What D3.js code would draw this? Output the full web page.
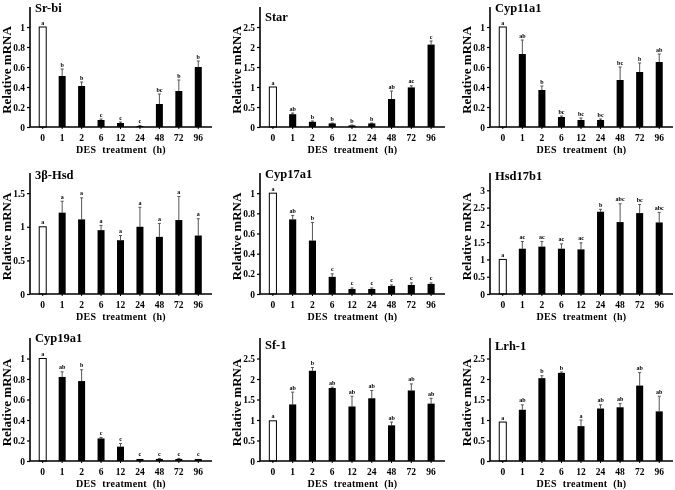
<!DOCTYPE html>
<html><head><meta charset="utf-8">
<script src="https://cdn.jsdelivr.net/npm/d3@7"></script>
<style>
body{margin:0;background:#fff}
svg{display:block;will-change:transform}
text{font-family:"Liberation Serif","Times New Roman",serif;font-weight:bold;fill:#000;-webkit-font-smoothing:antialiased}
</style>
</head><body>
<svg width="675" height="490"></svg>
<script>
// ---------- data ----------
const timePoints = ["0","1","2","6","12","24","48","72","96"];
const geneNames = ["Sr-bi","Star","Cyp11a1","3β-Hsd","Cyp17a1","Hsd17b1","Cyp19a1","Sf-1","Lrh-1"];

const srbiMean = [1.00,0.51,0.41,0.07,0.04,0.01,0.23,0.36,0.60];
const srbiErr  = [0.00,0.07,0.04,0.01,0.01,0.005,0.10,0.11,0.06];
const srbiSig  = ["a","b","b","c","c","c","bc","b","b"];

const starMean = [1.00,0.32,0.13,0.09,0.04,0.09,0.70,0.99,2.06];
const starErr  = [0.00,0.03,0.02,0.01,0.01,0.01,0.20,0.04,0.09];
const starSig  = ["a","ab","b","b","b","b","ab","ac","c"];

const cyp11Mean = [1.00,0.73,0.37,0.10,0.07,0.07,0.47,0.55,0.65];
const cyp11Err  = [0.00,0.14,0.04,0.01,0.02,0.01,0.13,0.09,0.08];
const cyp11Sig  = ["a","ab","b","bc","bc","bc","bc","b","ab"];

const hsd3Mean = [1.00,1.21,1.11,0.95,0.80,1.00,0.85,1.10,0.87];
const hsd3Err  = [0.00,0.17,0.32,0.07,0.07,0.29,0.20,0.35,0.25];
const hsd3Sig  = ["a","a","a","a","a","a","a","a","a"];

const cyp17Mean = [1.00,0.74,0.53,0.17,0.05,0.05,0.08,0.09,0.10];
const cyp17Err  = [0.00,0.04,0.18,0.03,0.01,0.01,0.01,0.02,0.01];
const cyp17Sig  = ["a","ab","b","c","c","c","c","c","c"];

const hsd17Mean = [1.00,1.31,1.37,1.31,1.29,2.38,2.08,2.34,2.07];
const hsd17Err  = [0.00,0.21,0.15,0.14,0.19,0.07,0.53,0.25,0.29];
const hsd17Sig  = ["a","ac","ac","ac","ac","b","abc","bc","abc"];

const cyp19Mean = [1.00,0.82,0.78,0.22,0.14,0.02,0.02,0.02,0.02];
const cyp19Err  = [0.00,0.05,0.11,0.01,0.03,0.00,0.005,0.005,0.00];
const cyp19Sig  = ["a","ab","b","c","c","c","c","c","c"];

const sf1Mean = [0.98,1.38,2.20,1.78,1.33,1.53,0.87,1.72,1.40];
const sf1Err  = [0.00,0.30,0.08,0.02,0.25,0.19,0.08,0.16,0.13];
const sf1Sig  = ["a","ab","b","ab","ab","ab","ab","ab","ab"];

const lrh1Mean = [0.95,1.25,2.02,2.15,0.85,1.28,1.31,1.84,1.21];
const lrh1Err  = [0.00,0.12,0.06,0.02,0.15,0.09,0.09,0.32,0.37];
const lrh1Sig  = ["a","ab","b","b","a","ab","ab","ab","ab"];

const ticksFifth = [0,0.2,0.4,0.6,0.8,1];
const tickLabelsFifth = ["0","0.2","0.4","0.6","0.8","1"];
const ticksHalf15 = [0,0.5,1,1.5];
const tickLabelsHalf15 = ["0","0.5","1","1.5"];
const ticksHalf25 = [0,0.5,1,1.5,2,2.5];
const tickLabelsHalf25 = ["0","0.5","1","1.5","2","2.5"];
const ticksHalf3 = [0,0.5,1,1.5,2,2.5,3];
const tickLabelsHalf3 = ["0","0.5","1","1.5","2","2.5","3"];

const yMax = [1.2,3,1.2,1.8,1.2,3.5,1.2,3,3];

const panels = [
  {name:geneNames[0], mean:srbiMean, err:srbiErr, sig:srbiSig, ticks:ticksFifth, labels:tickLabelsFifth, ymax:yMax[0]},
  {name:geneNames[1], mean:starMean, err:starErr, sig:starSig, ticks:ticksHalf25, labels:tickLabelsHalf25, ymax:yMax[1]},
  {name:geneNames[2], mean:cyp11Mean, err:cyp11Err, sig:cyp11Sig, ticks:ticksFifth, labels:tickLabelsFifth, ymax:yMax[2]},
  {name:geneNames[3], mean:hsd3Mean, err:hsd3Err, sig:hsd3Sig, ticks:ticksHalf15, labels:tickLabelsHalf15, ymax:yMax[3]},
  {name:geneNames[4], mean:cyp17Mean, err:cyp17Err, sig:cyp17Sig, ticks:ticksFifth, labels:tickLabelsFifth, ymax:yMax[4]},
  {name:geneNames[5], mean:hsd17Mean, err:hsd17Err, sig:hsd17Sig, ticks:ticksHalf3, labels:tickLabelsHalf3, ymax:yMax[5]},
  {name:geneNames[6], mean:cyp19Mean, err:cyp19Err, sig:cyp19Sig, ticks:ticksFifth, labels:tickLabelsFifth, ymax:yMax[6]},
  {name:geneNames[7], mean:sf1Mean, err:sf1Err, sig:sf1Sig, ticks:ticksHalf25, labels:tickLabelsHalf25, ymax:yMax[7]},
  {name:geneNames[8], mean:lrh1Mean, err:lrh1Err, sig:lrh1Sig, ticks:ticksHalf25, labels:tickLabelsHalf25, ymax:yMax[8]}
];

// ---------- layout ----------
const colLeft = [30, 260, 490];
const colRight = [212, 445, 673];
const rowTop = [7, 173, 338];
const rowBase = [127, 294, 461];
const titleDy = [5, 14, 5, 6, 5, 7, 4, 11, 12];

const svg = d3.select("svg");

panels.forEach((p, i) => {
  const c = i % 3, r = Math.floor(i / 3);
  const L = colLeft[c], R = colRight[c], T = rowTop[r], B = rowBase[r];
  const g = svg.append("g");

  const x = d3.scaleBand().domain(timePoints).range([L + 3, R - 4])
    .paddingInner(0.64).paddingOuter(0.32);
  const y = d3.scaleLinear().domain([0, p.ymax]).range([B, T]);

  // error bars
  timePoints.forEach((t, k) => {
    const cx = x(t) + x.bandwidth() / 2;
    const yTop = y(p.mean[k] + p.err[k]);
    if (p.err[k] > 0) {
      g.append("line").attr("x1", cx).attr("x2", cx)
        .attr("y1", y(p.mean[k])).attr("y2", yTop)
        .attr("stroke", "#555").attr("stroke-width", 1);
      g.append("line").attr("x1", cx - 1.5).attr("x2", cx + 1.5)
        .attr("y1", yTop).attr("y2", yTop)
        .attr("stroke", "#555").attr("stroke-width", 1);
    }
    g.append("text").attr("x", cx).attr("y", yTop - 2.5)
      .attr("text-anchor", "middle").attr("font-size", 6).text(p.sig[k]);
  });

  // bars
  g.selectAll("rect.bar").data(timePoints).join("rect")
    .attr("x", t => x(t)).attr("width", x.bandwidth())
    .attr("y", (t, k) => y(p.mean[k]))
    .attr("height", (t, k) => B - y(p.mean[k]))
    .attr("fill", (t, k) => k === 0 ? "#fff" : "#000")
    .attr("stroke", "#000").attr("stroke-width", (t, k) => k === 0 ? 1 : 0);

  // y axis
  const yAxis = d3.axisLeft(y).tickValues(p.ticks)
    .tickFormat((d, k) => p.labels[k]).tickSize(3).tickPadding(2);
  const ya = g.append("g").attr("transform", `translate(${L},0)`).call(yAxis);
  ya.select(".domain").attr("d", `M0,${B}V${T}`).attr("stroke-width", 1.6);
  ya.selectAll(".tick line").attr("stroke-width", 1.2);
  ya.selectAll("text").attr("font-size", 9.5).attr("font-family", "Liberation Serif").attr("font-weight", "bold");

  // x axis
  const xAxis = d3.axisBottom(x).tickSize(2).tickPadding(5);
  const xa = g.append("g").attr("transform", `translate(0,${B})`).call(xAxis);
  xa.select(".domain").attr("d", `M${L},0H${R}`).attr("stroke-width", 1.6);
  xa.selectAll("text").attr("font-size", 9.5).attr("font-family", "Liberation Serif").attr("font-weight", "bold");

  // titles
  g.append("text").attr("x", L + 5).attr("y", T + titleDy[i])
    .attr("font-size", 12.5).text(p.name);
  g.append("text").attr("x", (L + R) / 2).attr("y", B + 26)
    .attr("text-anchor", "middle").attr("font-size", 10)
    .attr("letter-spacing", 0.3).attr("word-spacing", 3).text("DES treatment (h)");
  g.append("text")
    .attr("transform", `translate(${L - 19},${(T + B) / 2 + 3}) rotate(-90)`)
    .attr("text-anchor", "middle").attr("font-size", 13).text("Relative mRNA");
});
</script>
</body></html>
